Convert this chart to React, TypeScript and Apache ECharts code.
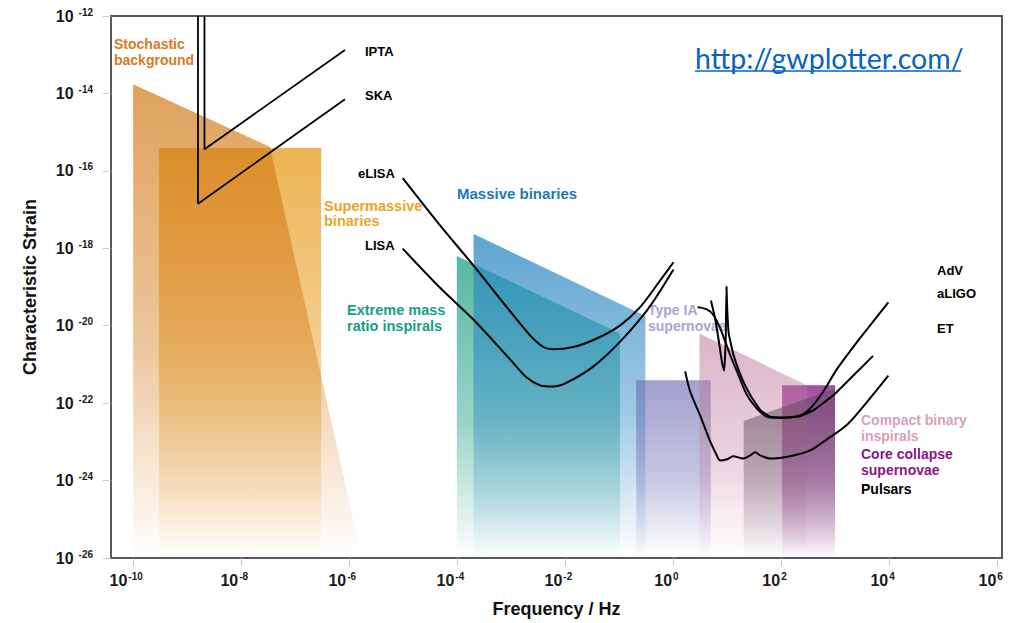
import React, { useEffect, useRef } from "react";
import * as echarts from "echarts";

// ---- axes (values are decades: log10 of Hz and of characteristic strain) ----
const freqRange = [-10.41, 6.08];
const strainRange = [-26, -12];
const freqTickExponents = [-10, -8, -6, -4, -2, 0, 2, 4, 6];

// ---- source regions, outlines as [log10 f, log10 h], filled down to the axis ----
const stochasticBackground = [[-10, -26], [-10, -13.76], [-7.47, -15.38], [-5.77, -26]];
const supermassiveBinaries = [[-9.52, -26], [-9.52, -15.41], [-6.52, -15.41], [-6.52, -26]];
const extremeMassRatio = [[-4.01, -26], [-4.01, -18.2], [-0.99, -20.2], [-0.99, -26]];
const massiveBinaries = [[-3.7, -26], [-3.7, -17.63], [-0.52, -19.75], [-0.52, -26]];
const typeIASupernovae = [[-0.69, -26], [-0.69, -21.41], [0.69, -21.41], [0.69, -26]];
const compactBinaryInspirals = [[0.48, -26], [0.48, -20.2], [2.47, -21.54], [2.47, -26]];
const coreCollapseSupernovae = [[2.01, -26], [2.01, -21.54], [2.99, -21.54], [2.99, -26]];
const pulsarRegion = [[1.3, -26], [1.3, -22.46], [2.99, -21.62], [2.99, -26]];

// ---- detector sensitivity curves [log10 f, log10 h] ----
const ipta = [[-8.68, -12], [-8.68, -15.44], [-6.08, -12.88]];
const ska = [[-8.8, -12], [-8.8, -16.85], [-6.08, -14.15]];
const eLisa = [
  [-5.011, -16.19], [-4.32, -17.41], [-3.704, -18.44], [-3.085, -19.52], [-2.654, -20.25],
  [-2.407, -20.55], [-2.222, -20.61], [-1.852, -20.55], [-1.419, -20.33], [-0.987, -19.99],
  [-0.617, -19.52], [-0.246, -18.83], [0.0, -18.36],
];
const lisa = [
  [-5.011, -18.01], [-4.32, -19.02], [-3.704, -19.84], [-3.024, -20.87], [-2.715, -21.34],
  [-2.469, -21.54], [-2.228, -21.57], [-1.974, -21.47], [-1.481, -21.05], [-0.987, -20.41],
  [-0.493, -19.61], [-0.246, -19.1], [0.0, -18.55],
];
const et = [
  [0.217, -21.18], [0.309, -21.7], [0.494, -22.32], [0.68, -22.99], [0.791, -23.32],
  [0.865, -23.48], [0.994, -23.45], [1.106, -23.37], [1.291, -23.43], [1.42, -23.35],
  [1.513, -23.27], [1.606, -23.35], [1.791, -23.43], [2.161, -23.37], [2.531, -23.22],
  [2.865, -22.91], [3.217, -22.55], [3.587, -21.96], [3.976, -21.29],
];
const adv = [
  [0.444, -19.52], [0.619, -19.58], [0.741, -19.73], [0.865, -20.07], [1.05, -20.76],
  [1.204, -21.28], [1.359, -21.79], [1.544, -22.14], [1.73, -22.35], [1.976, -22.38],
  [2.346, -22.32], [2.531, -22.14], [2.772, -21.7], [3.031, -21.11], [3.402, -20.41],
  [3.698, -19.89], [3.976, -19.4],
];
const aligo = [
  [0.693, -19.35], [0.772, -19.82], [0.846, -20.46], [0.902, -20.98], [0.939, -21.16],
  [0.967, -20.33], [0.981, -18.99], [0.994, -19.56], [1.022, -20.2], [1.111, -20.76],
  [1.267, -21.36], [1.42, -21.79], [1.606, -22.18], [1.791, -22.35], [2.069, -22.37],
  [2.346, -22.34], [2.593, -22.18], [2.963, -21.79], [3.333, -21.28], [3.693, -20.78],
];

const SANS = '"Liberation Sans", Arial, sans-serif';

function region(name: string, data: number[][], rgb: number[], alpha: number) {
  const [r, g, b] = rgb;
  return {
    name,
    type: "line",
    data,
    symbol: "none",
    silent: true,
    lineStyle: { opacity: 0, width: 0 },
    areaStyle: {
      origin: "start",
      opacity: 1,
      color: new echarts.graphic.LinearGradient(0, 0, 0, 1, [
        { offset: 0, color: `rgba(${r},${g},${b},${alpha})` },
        { offset: 0.55, color: `rgba(${r},${g},${b},${alpha * 0.6})` },
        { offset: 1, color: `rgba(${r},${g},${b},0)` },
      ]),
    },
  };
}

function curve(name: string, data: number[][], width = 2, smooth: number | boolean = 0.2) {
  return {
    name,
    type: "line",
    data,
    symbol: "none",
    smooth,
    silent: true,
    z: 5,
    lineStyle: { color: "#000", width },
  };
}

function label(text: string, x: number, y: number, fill: string, size = 14, lineHeight = 16) {
  return {
    type: "text",
    x,
    y,
    silent: true,
    style: {
      text,
      fill,
      fontFamily: SANS,
      fontWeight: "bold",
      fontSize: size,
      lineHeight,
      align: "left",
      verticalAlign: "top",
    },
  };
}

export default function App() {
  const ref = useRef<HTMLDivElement>(null);

  useEffect(() => {
    if (!ref.current) return;
    const chart = echarts.init(ref.current, undefined, { renderer: "svg" });

    const richAxis = (gap: number) => ({
      b: { fontSize: 16, fontWeight: "bold", fontFamily: SANS, color: "#1a1a1a", lineHeight: 18 },
      e: {
        fontSize: 10,
        fontWeight: "bold",
        fontFamily: SANS,
        color: "#1a1a1a",
        lineHeight: 9,
        verticalAlign: "top",
        padding: [0, 0, 0, gap],
      },
    });

    chart.setOption({
      animation: false,
      backgroundColor: "#fff",
      grid: {
        left: 111,
        right: 15,
        top: 16,
        bottom: 63,
        show: true,
        borderColor: "#595959",
        borderWidth: 2,
      },
      xAxis: {
        type: "value",
        min: freqRange[0],
        max: freqRange[1],
        splitLine: { show: false },
        axisLine: { show: true, onZero: false, lineStyle: { color: "#595959", width: 2 } },
        axisTick: {
          show: true,
          customValues: freqTickExponents,
          length: 8,
          lineStyle: { color: "#c8c8c8", width: 1 },
        },
        axisLabel: {
          customValues: freqTickExponents,
          margin: 13,
          padding: [0, 14, 0, 0],
          formatter: (v: number) => `{b|10}{e|${v}}`,
          rich: richAxis(1),
        },
        name: "Frequency / Hz",
        nameLocation: "middle",
        nameGap: 42,
        nameTextStyle: { fontFamily: SANS, fontWeight: "bold", fontSize: 18, color: "#111" },
      },
      yAxis: {
        type: "value",
        min: strainRange[0],
        max: strainRange[1],
        interval: 2,
        splitLine: { show: false },
        axisLine: { show: true, onZero: false, lineStyle: { color: "#595959", width: 2 } },
        axisTick: { show: true, length: 8, lineStyle: { color: "#c8c8c8", width: 1 } },
        axisLabel: {
          margin: 18,
          showMinLabel: true,
          showMaxLabel: true,
          formatter: (v: number) => `{b|10}{e|${v}}`,
          rich: richAxis(5),
        },
        name: "Characteristic Strain",
        nameLocation: "middle",
        nameRotate: 90,
        nameGap: 72,
        nameTextStyle: { fontFamily: SANS, fontWeight: "bold", fontSize: 18, color: "#111" },
      },
      series: [
        region("Supermassive binaries", supermassiveBinaries, [232, 160, 40], 0.8),
        region("Stochastic background", stochasticBackground, [210, 120, 20], 0.7),
        region("Extreme mass ratio inspirals", extremeMassRatio, [30, 160, 130], 0.75),
        region("Massive binaries", massiveBinaries, [40, 135, 195], 0.75),
        region("Type IA supernovae", typeIASupernovae, [110, 110, 180], 0.65),
        region("Core collapse supernovae", coreCollapseSupernovae, [126, 0, 126], 0.7),
        region("Compact binary inspirals", compactBinaryInspirals, [190, 120, 155], 0.55),
        region("Pulsars", pulsarRegion, [95, 70, 90], 0.55),
        curve("IPTA", ipta, 1.8, false),
        curve("SKA", ska, 1.8, false),
        curve("eLISA", eLisa, 2, 0.3),
        curve("LISA", lisa, 2, 0.3),
        curve("ET", et, 2, 0.3),
        curve("AdV", adv, 2, 0.3),
        curve("aLIGO", aligo, 2, 0.1),
      ],
      graphic: [
        label("Stochastic\nbackground", 114, 36, "#D97A26", 14, 16),
        label("IPTA", 365, 43, "#000", 13),
        label("SKA", 365, 87, "#000", 13),
        label("eLISA", 358, 165, "#000", 13),
        label("LISA", 365, 237, "#000", 13),
        label("Supermassive\nbinaries", 324, 198, "#EBA326", 14.5, 15),
        label("Massive binaries", 457, 185, "#1F78B8", 15),
        label("Extreme mass\nratio inspirals", 347, 302, "#13A082", 14.5, 16),
        label("Type IA\nsupernovae", 648, 302, "#A6A6D0", 14, 16),
        label("AdV", 937, 262, "#000", 13),
        label("aLIGO", 937, 285, "#000", 13),
        label("ET", 937, 320, "#000", 13),
        label("Compact binary\ninspirals", 861, 412, "#D6A0BC", 14, 16),
        label("Core collapse\nsupernovae", 861, 446, "#8B138B", 14, 16),
        label("Pulsars", 861, 481, "#000", 14),
        {
          type: "text",
          x: 695,
          y: 58,
          silent: true,
          style: {
            text: "http://gwplotter.com/",
            fill: "#0563C1",
            fontFamily: "Lato, 'Open Sans', sans-serif",
            fontSize: 28.5,
            align: "left",
            verticalAlign: "middle",
          },
        },
        {
          type: "line",
          silent: true,
          shape: { x1: 695, y1: 71, x2: 961, y2: 71 },
          style: { stroke: "#0563C1", lineWidth: 1.5 },
        },
      ],
    });

    return () => chart.dispose();
  }, []);

  return <div ref={ref} style={{ width: 1017, height: 623, position: "absolute", left: 0, top: 0 }} />;
}
